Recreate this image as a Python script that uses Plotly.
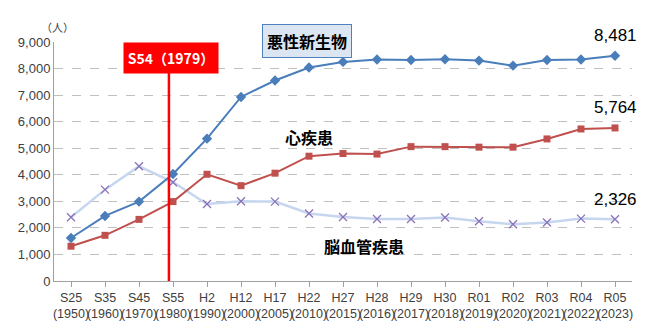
import plotly.graph_objects as go

eras = ["S25", "S35", "S45", "S55", "H2", "H12", "H17", "H22", "H27", "H28",
        "H29", "H30", "R01", "R02", "R03", "R04", "R05"]
years = ["1950", "1960", "1970", "1980", "1990", "2000", "2005", "2010", "2015",
         "2016", "2017", "2018", "2019", "2020", "2021", "2022", "2023"]
malignant = [1620, 2450, 2990, 4030, 5360, 6930, 7550, 8040, 8250, 8340,
             8320, 8350, 8300, 8110, 8320, 8340, 8481]
heart = [1310, 1720, 2320, 2990, 4020, 3590, 4060, 4700, 4800, 4780,
         5060, 5060, 5040, 5040, 5350, 5725, 5764]
cerebro = [2400, 3440, 4320, 3720, 2900, 3000, 2990, 2540, 2410, 2335,
           2335, 2390, 2250, 2135, 2200, 2350, 2326]
y_ticks = [0, 1000, 2000, 3000, 4000, 5000, 6000, 7000, 8000, 9000]

x = list(range(len(eras)))
ticktext = [f"{e}<br>({y})" for e, y in zip(eras, years)]

jp = "Noto Sans CJK JP"
num_font = "Liberation Sans, Noto Sans, sans-serif"

fig = go.Figure()
fig.add_trace(go.Scatter(x=x, y=cerebro, mode="lines+markers",
                         line=dict(color="#c6d6ef", width=2.5),
                         marker=dict(symbol="x-thin", size=8, color="#8a72b8",
                                     line=dict(width=1.3, color="#8a72b8")),
                         showlegend=False))
fig.add_trace(go.Scatter(x=x, y=heart, mode="lines+markers",
                         line=dict(color="#c0504d", width=2),
                         marker=dict(symbol="square", size=7, color="#c0504d"),
                         showlegend=False))
fig.add_trace(go.Scatter(x=x, y=malignant, mode="lines+markers",
                         line=dict(color="#4a7ebb", width=2),
                         marker=dict(symbol="diamond", size=8, color="#4a7ebb"),
                         showlegend=False))

# red marker line for S54 (1979)
fig.add_shape(type="line", xref="x", yref="y", x0=2.88, x1=2.88, y0=0, y1=7850,
              line=dict(color="#ff0000", width=2.5))

fig.add_annotation(x=2.93, y=8390, xref="x", yref="y", text="<b>S54（1979）</b>",
                   showarrow=False, bgcolor="#ff0000", font=dict(color="white", size=14, family=jp),
                   width=88, height=24, borderpad=3)
fig.add_annotation(x=6.94, y=9000, xref="x", yref="y", yshift=1, text="<b>悪性新生物</b>",
                   showarrow=False, bgcolor="#dce6f2", bordercolor="#4f81bd", borderwidth=1,
                   font=dict(color="#000000", size=16, family=jp), borderpad=4)
fig.add_annotation(x=7.0, y=5420, xref="x", yref="y", text="<b>心疾患</b>",
                   showarrow=False, font=dict(color="#000000", size=16, family=jp))
fig.add_annotation(x=8.63, y=1310, xref="x", yref="y", text="<b>脳血管疾患</b>",
                   showarrow=False, font=dict(color="#000000", size=16, family=jp))
fig.add_annotation(x=-0.4, y=9000, xref="x", yref="y", yshift=15, text="（人）",
                   showarrow=False, font=dict(color="#404040", size=11, family=jp))

last = len(eras) - 1
for vals in (malignant, heart, cerebro):
    fig.add_annotation(x=last, y=vals[last], xref="x", yref="y", text=f"{vals[last]:,}",
                       showarrow=False, yshift=20,
                       font=dict(color="#000000", size=17, family=num_font))

fig.update_layout(
    width=650, height=328,
    margin=dict(l=54, r=18, t=42, b=47),
    paper_bgcolor="white", plot_bgcolor="white",
    font=dict(family=num_font, color="#404040", size=12),
)
fig.update_xaxes(range=[-0.5, 16.5], tickmode="array", tickvals=x, ticktext=ticktext,
                 tickangle=0, automargin=False,
                 showgrid=False, showline=True, linecolor="#a0a0a0", linewidth=1,
                 ticks="outside", ticklen=5, tickcolor="#a0a0a0",
                 tickson="boundaries", type="linear", zeroline=False,
                 tickfont=dict(size=12.5, color="#404040"))
fig.update_yaxes(range=[0, 9000], tickvals=y_ticks, tickformat=",d", automargin=False,
                 showgrid=True, gridcolor="#c0c0c0", griddash="dash", gridwidth=1,
                 showline=True, linecolor="#a0a0a0", linewidth=1, zeroline=False,
                 ticks="", tickfont=dict(size=13, color="#404040"))

fig.write_html("out.html")
